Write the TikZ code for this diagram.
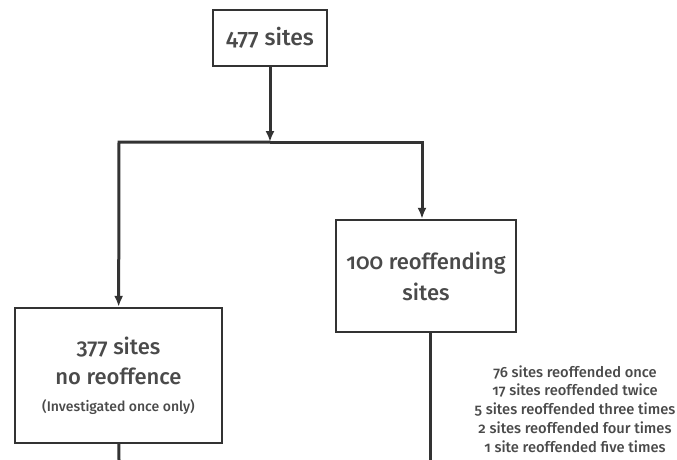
\documentclass[tikz,border=0pt]{standalone}
\usepackage{fontspec}
\usetikzlibrary{arrows.meta}
\setmainfont[Numbers=OldStyle,UprightFont=* Medium]{Fira Sans}
\definecolor{boxline}{HTML}{333333}
\definecolor{boxtext}{HTML}{4A4A4A}
\tikzset{
  sitebox/.style={draw=boxline,line width=2.3pt,align=center,text=boxtext,inner sep=0pt},
  flow/.style={draw=boxline,line width=3pt},
}
\begin{document}
\begin{tikzpicture}[x=1pt,y=-1pt,>={Latex[length=11pt,width=9pt]}]
\useasboundingbox (0,0) rectangle (677,460);
\node[sitebox,minimum width=114pt,minimum height=56pt,font=\fontsize{23}{26}\selectfont] (All) at (270,38) {477 sites};
\node[sitebox,minimum width=180pt,minimum height=112pt,font=\fontsize{22}{31}\selectfont] (Reoff) at (426,276) {100 reoffending\\sites};
\node[sitebox,minimum width=207pt,minimum height=135pt,font=\fontsize{22}{30}\selectfont] (NoReoff) at (118.5,375.5)
  {377 sites\\no reoffence\\[-3pt]{\fontsize{14}{16}\selectfont(Investigated once only)}};
\node[align=center,text=boxtext,font=\fontsize{14.7}{18.8}\selectfont] (Counts) at (575,409)
  {76 sites reoffended once\\17 sites reoffended twice\\5 sites reoffended three times\\2 sites reoffended four times\\1 site reoffended five times};
\coordinate (J) at (270,142);
\coordinate (JL) at (119,142);
\coordinate (JR) at (422,142);
\coordinate (EndL) at (119,460);
\coordinate (EndR) at (430,460);
\draw[flow,->] (All) -- (J);
\draw[flow,->] (J) -- (JL) -- (NoReoff);
\draw[flow,->] (J) -- (JR) -- (JR |- Reoff.north);
\draw[flow] (NoReoff) -- (EndL);
\draw[flow] (EndR |- Reoff.south) -- (EndR);
\end{tikzpicture}
\end{document}
